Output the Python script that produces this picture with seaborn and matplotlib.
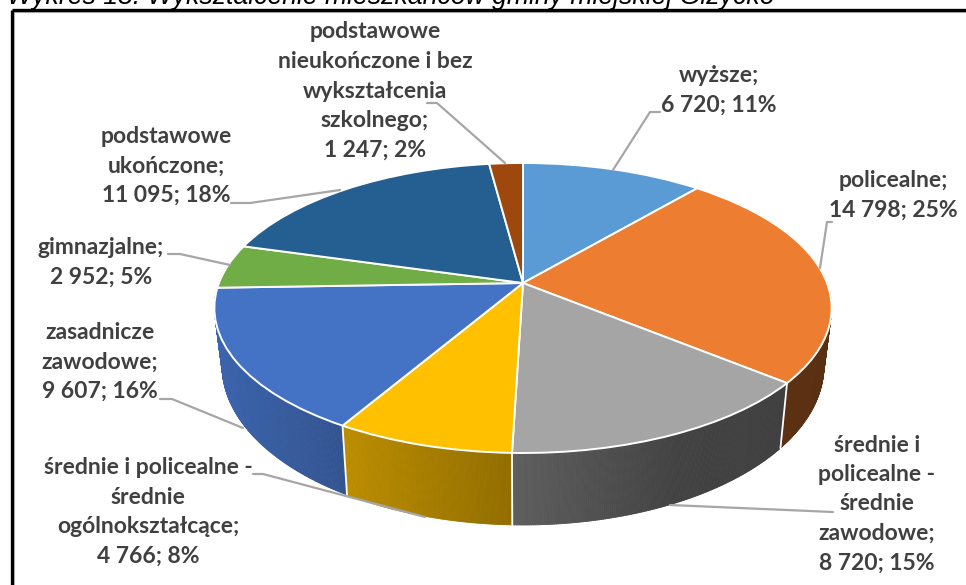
import numpy as np
import matplotlib
matplotlib.use("Agg")
import matplotlib.pyplot as plt
from matplotlib.collections import PolyCollection
from matplotlib.transforms import Transform
import seaborn as sns

# ---- data ----
categories = ["wyższe", "policealne", "średnie i policealne - średnie zawodowe",
              "średnie i policealne - średnie ogólnokształcące", "zasadnicze zawodowe",
              "gimnazjalne", "podstawowe ukończone",
              "podstawowe nieukończone i bez wykształcenia szkolnego"]
values = [6720, 14798, 8720, 4766, 9607, 2952, 11095, 1247]
percent_labels = ["11%", "25%", "15%", "8%", "16%", "5%", "18%", "2%"]
value_labels = ["6 720", "14 798", "8 720", "4 766", "9 607", "2 952", "11 095", "1 247"]
hex_colors = ["#5B9BD5", "#ED7D31", "#A5A5A5", "#FFC000", "#4472C4", "#70AD47", "#255E91", "#9E480E"]
title_text = "Wykres 18. Wykształcenie mieszkańców gminy miejskiej Giżycko"

sns.set_theme(style="white")
plt.rcParams["font.family"] = ["Lato", "DejaVu Sans"]
palette = sns.color_palette(hex_colors)

# perspective of the pie disc, in pixel coordinates
CX, CY, R, PERS, TILT = 523.0, 283.0, 304.0, 0.1724, -91.9


class DiscProjection(Transform):
    input_dims = 2
    output_dims = 2
    has_inverse = False

    def transform_non_affine(self, values):
        xy = np.asarray(values, dtype=float)
        den = 1 + PERS * xy[:, 1]
        return np.column_stack([CX + R * xy[:, 0] / den, (CY + TILT * xy[:, 1]) / den])


def lower_rim(pts):
    return np.column_stack([CX + (pts[:, 0] - CX) * 0.975, pts[:, 1] * 1.0986 + 27.3])


fig = plt.figure(figsize=(9.66, 5.85), dpi=100, facecolor="white")
ax = fig.add_axes([0, 0, 1, 1])

wedges, _ = ax.pie(values, colors=palette, startangle=90, counterclock=False,
                   wedgeprops=dict(edgecolor="white", linewidth=1.4))
ax.set_aspect("auto")
ax.set_xlim(0, 966)
ax.set_ylim(585, 0)
ax.axis("off")

proj = DiscProjection()
for w in wedges:
    w.set_transform(proj + ax.transData)
    w.set_zorder(5)
    w.set_clip_on(False)

# side wall, shaded along x, built from the same cumulative values
fractions = np.cumsum([0] + values) / float(sum(values))
polys, cols = [], []
for i, col in enumerate(palette):
    a0, a1 = 90 - 360 * fractions[i], 90 - 360 * fractions[i + 1]
    phi = np.radians(np.linspace(a0, a1, max(3, int(abs(a1 - a0) * 3))))
    keep = np.sin(phi) < 0.15
    if keep.sum() < 2:
        continue
    phi = phi[keep]
    top = proj.transform_non_affine(np.column_stack([np.cos(phi), np.sin(phi)]))
    bot = lower_rim(top)
    for j in range(len(phi) - 1):
        polys.append([top[j], top[j + 1], bot[j + 1], bot[j]])
        xm = 0.5 * (top[j, 0] + top[j + 1, 0])
        shade = np.interp(xm, [215, 345, 513, 680, 832], [0.88, 0.73, 0.57, 0.40, 0.38])
        cols.append(tuple(np.array(col) * shade))
    # white seam at slice ends on the visible front
    if np.sin(np.radians(a1)) < -0.02:
        ax.plot([top[-1, 0], bot[-1, 0]], [top[-1, 1], bot[-1, 1]],
                color="white", lw=1.3, zorder=3)
ax.add_collection(PolyCollection(polys, facecolors=cols, edgecolors=cols, linewidths=0.6, zorder=2))

# leader lines
LEADER = "#a6a6a6"
leaders = [
    [(660, 112), (650, 112), (613, 170)],
    [(832, 222), (827, 222), (820, 268)],
    [(833, 512), (670, 505)],
    [(253, 474), (263, 474), (425, 517)],
    [(160, 399), (172, 399), (243, 428)],
    [(168, 254), (180, 254), (230, 265)],
    [(231, 203), (250, 203), (340, 190)],
    [(427, 103), (437, 103), (505, 163)],
]
for pts in leaders:
    xs, ys = zip(*pts)
    ax.plot(xs, ys, color=LEADER, lw=1.6, zorder=6, solid_capstyle="round")

# data labels
wrapped = [
    "wyższe;", "policealne;", "średnie i\npolicealne -\nśrednie\nzawodowe;",
    "średnie i policealne -\nśrednie\nogólnokształcące;", "zasadnicze\nzawodowe;",
    "gimnazjalne;", "podstawowe\nukończone;",
    "podstawowe\nnieukończone i bez\nwykształcenia\nszkolnego;",
]
label_xy = [(719, 90), (893, 195), (877, 504), (148, 512), (100, 362), (101, 262), (166, 166), (375, 91)]
for txt, v, p, (x, y) in zip(wrapped, value_labels, percent_labels, label_xy):
    ax.text(x, y, f"{txt}\n{v}; {p}", ha="center", va="center", color="#404040",
            fontsize=16.5, fontweight="bold", linespacing=1.5, zorder=7)

# page title cut off at the top and the frame of the embedded picture
ax.text(7, 3.5, title_text, ha="left", va="baseline", family="Liberation Sans",
        style="italic", fontsize=19.2, color="black", clip_on=False)
ax.plot([11.5, 966], [9.5, 9.5], color="black", lw=2.4, zorder=8, solid_capstyle="butt")
ax.plot([11.5, 11.5], [9.5, 585], color="black", lw=2.4, zorder=8, solid_capstyle="butt")
ax.plot([13, 966], [11.5, 11.5], color="#bfbfbf", lw=1.5, zorder=7, solid_capstyle="butt")
ax.plot([14, 14], [11, 585], color="#d0d0d0", lw=1.5, zorder=7, solid_capstyle="butt")

fig.savefig("out.png", dpi=100, facecolor="white")
